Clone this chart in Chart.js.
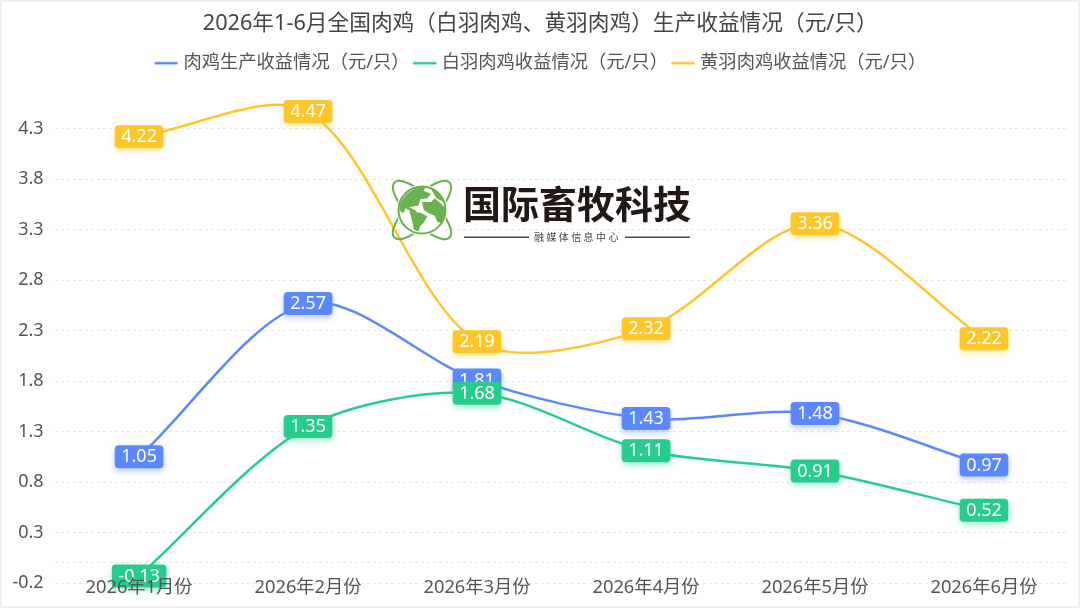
<!DOCTYPE html>
<html>
<head>
<meta charset="utf-8">
<title>肉鸡生产收益情况</title>
<script src="https://cdn.jsdelivr.net/npm/chart.js@4.4.0/dist/chart.umd.min.js"></script>
<style>
  body { margin: 0; background: #fff; }
  #wrap { width: 1080px; height: 608px; box-sizing: border-box; border: 2px solid #efefef; }
  canvas { display: block; }
</style>
</head>
<body>
<div id="wrap"><canvas id="chart" width="1076" height="604"></canvas></div>
<script>
const FONT = '"Noto Sans", "Noto Sans CJK SC", sans-serif';

const months = ['2026年1月份', '2026年2月份', '2026年3月份', '2026年4月份', '2026年5月份', '2026年6月份'];
const allBroiler = [1.05, 2.57, 1.81, 1.43, 1.48, 0.97];
const whiteBroiler = [-0.13, 1.35, 1.68, 1.11, 0.91, 0.52];
const yellowBroiler = [4.22, 4.47, 2.19, 2.32, 3.36, 2.22];
// 0 只画网格线，不写刻度文字
const yTicks = [-0.2, 0, 0.3, 0.8, 1.3, 1.8, 2.3, 2.8, 3.3, 3.8, 4.3];

const BLUE = '#5b88ff';
const GREEN = '#26cd8c';
const YELLOW = '#ffc629';

// 图例里的短线，比默认的 line 样式更长，离文字更近
function legendLine(color) {
  const c = document.createElement('canvas');
  c.width = 28;
  c.height = 6;
  const g = c.getContext('2d');
  g.strokeStyle = color;
  g.lineWidth = 2.5;
  g.lineCap = 'round';
  g.beginPath();
  g.moveTo(5.5, 3);
  g.lineTo(26.5, 3);
  g.stroke();
  return c;
}

function makeSeries(label, data, color) {
  return {
    label, data,
    borderColor: color,
    backgroundColor: color,
    borderWidth: 2.5,
    borderCapStyle: 'round',
    tension: 0.3,
    pointRadius: 0,
    pointStyle: legendLine(color),
    clip: false
  };
}

// 图中央的品牌水印
const logoPlugin = {
  id: 'logo',
  afterDatasetsDraw(chart) {
    const ctx = chart.ctx;
    ctx.save();
    ctx.translate(420, 208);
    ctx.strokeStyle = '#6ab24e';
    ctx.lineWidth = 2;
    [Math.PI / 4, -Math.PI / 4].forEach(a => {
      ctx.beginPath();
      ctx.ellipse(0, 0, 39, 13.5, a, 0, Math.PI * 2);
      ctx.stroke();
    });
    ctx.fillStyle = '#fff';
    ctx.beginPath();
    ctx.arc(0, 0, 25.5, 0, Math.PI * 2);
    ctx.fill();
    ctx.beginPath();
    ctx.arc(0, 0, 23.5, 0, Math.PI * 2);
    ctx.stroke();

    ctx.fillStyle = '#6ab24e';
    ctx.scale(0.9, 0.9);
    const land = new Path2D(
      'M-24 -8 C-18 -20 -6 -26 4 -26 L2 -21 L10 -18 L6 -13 L-2 -12 L-4 -5 L-10 -4 L-14 -3 L-6 1 L-8 4 L-18 -2 L-21 4 L-25 0 Z ' +
      'M-14 1 L-2 3 L6 7 L2 14 L-2 18 L-4 24 L-9 22 L-11 12 Z ' +
      'M10 -24 C18 -22 23 -16 25 -8 L22 -10 L16 -13 L13 -18 Z ' +
      'M0 -9 L10 -9 L14 -13 L20 -8 L26 -2 L25 8 L22 15 L17 13 L14 6 L8 4 L2 0 Z'
    );
    ctx.fill(land);
    ctx.restore();

    ctx.save();
    ctx.textBaseline = 'middle';
    ctx.textAlign = 'left';
    ctx.fillStyle = '#231815';
    ctx.font = '700 38px "Noto Sans CJK SC", sans-serif';
    ctx.fillText('国际畜牧科技', 461, 202);
    ctx.fillStyle = '#4a4440';
    ctx.fillRect(462, 234.5, 65, 1.5);
    ctx.fillRect(623, 234.5, 65, 1.5);
    ctx.font = '10px "Noto Sans CJK SC", sans-serif';
    ctx.letterSpacing = '2.4px';
    ctx.fillText('融媒体信息中心', 532, 235);
    ctx.restore();
  }
};

// 每个数据点上的圆角数值标签，后面的系列盖住前面的
const valueTagPlugin = {
  id: 'valueTags',
  afterDatasetsDraw(chart) {
    const ctx = chart.ctx;
    chart.data.datasets.forEach((ds, i) => {
      chart.getDatasetMeta(i).data.forEach((pt, j) => {
        const text = ds.data[j].toFixed(2);
        ctx.save();
        ctx.font = '18px ' + FONT;
        const w = ctx.measureText(text).width + 13;
        const h = 23;
        ctx.shadowColor = ds.borderColor + '66';
        ctx.shadowBlur = 6;
        ctx.shadowOffsetY = 3;
        ctx.fillStyle = ds.borderColor;
        ctx.beginPath();
        ctx.roundRect(pt.x - w / 2, pt.y - h / 2, w, h, 4);
        ctx.fill();
        ctx.shadowColor = 'transparent';
        ctx.fillStyle = '#fff';
        ctx.textAlign = 'center';
        ctx.textBaseline = 'middle';
        ctx.fillText(text, pt.x, pt.y + 0.5);
        ctx.restore();
      });
    });
  }
};

new Chart(document.getElementById('chart'), {
  type: 'line',
  data: {
    labels: months,
    datasets: [
      makeSeries('肉鸡生产收益情况（元/只）', allBroiler, BLUE),
      makeSeries('白羽肉鸡收益情况（元/只）', whiteBroiler, GREEN),
      makeSeries('黄羽肉鸡收益情况（元/只）', yellowBroiler, YELLOW)
    ]
  },
  plugins: [logoPlugin, valueTagPlugin],
  options: {
    responsive: false,
    animation: false,
    layout: { padding: { left: 10, right: 9.5, top: 0, bottom: 0 } },
    plugins: {
      title: {
        display: true,
        text: '2026年1-6月全国肉鸡（白羽肉鸡、黄羽肉鸡）生产收益情况（元/只）',
        color: '#444',
        font: { family: FONT, size: 21.7, weight: 'normal' },
        padding: { top: 9, bottom: 14 }
      },
      legend: {
        display: true,
        position: 'top',
        labels: {
          color: '#555',
          font: { family: FONT, size: 18.3 },
          usePointStyle: true,
          pointStyleWidth: 20,
          padding: 3
        }
      },
      tooltip: { enabled: false }
    },
    scales: {
      x: {
        offset: true,
        border: { display: false },
        grid: { display: false },
        afterFit(scale) { scale.height = 23; },
        // 刻度文字要压在绘图区底边上，不能被坐标轴的裁剪框切掉
        afterUpdate(scale) { scale._computeLabelArea = () => undefined; },
        ticks: {
          z: 1,
          color: '#555',
          padding: -14,
          maxRotation: 0,
          autoSkip: false,
          font: { family: FONT, size: 18.3 }
        }
      },
      y: {
        min: -0.2,
        max: 4.76,
        border: { display: false, dash: [3, 3] },
        grid: { color: '#e6e6e6', lineWidth: 1, tickLength: 0, tickColor: 'transparent' },
        afterFit(scale) { scale.width = 42.6; },
        afterBuildTicks(scale) { scale.ticks = yTicks.map(value => ({ value })); },
        ticks: {
          color: '#555',
          padding: 11,
          font: { family: FONT, size: 18 },
          callback: value => (value === 0 ? '' : value.toFixed(1))
        }
      }
    }
  }
});
</script>
</body>
</html>
